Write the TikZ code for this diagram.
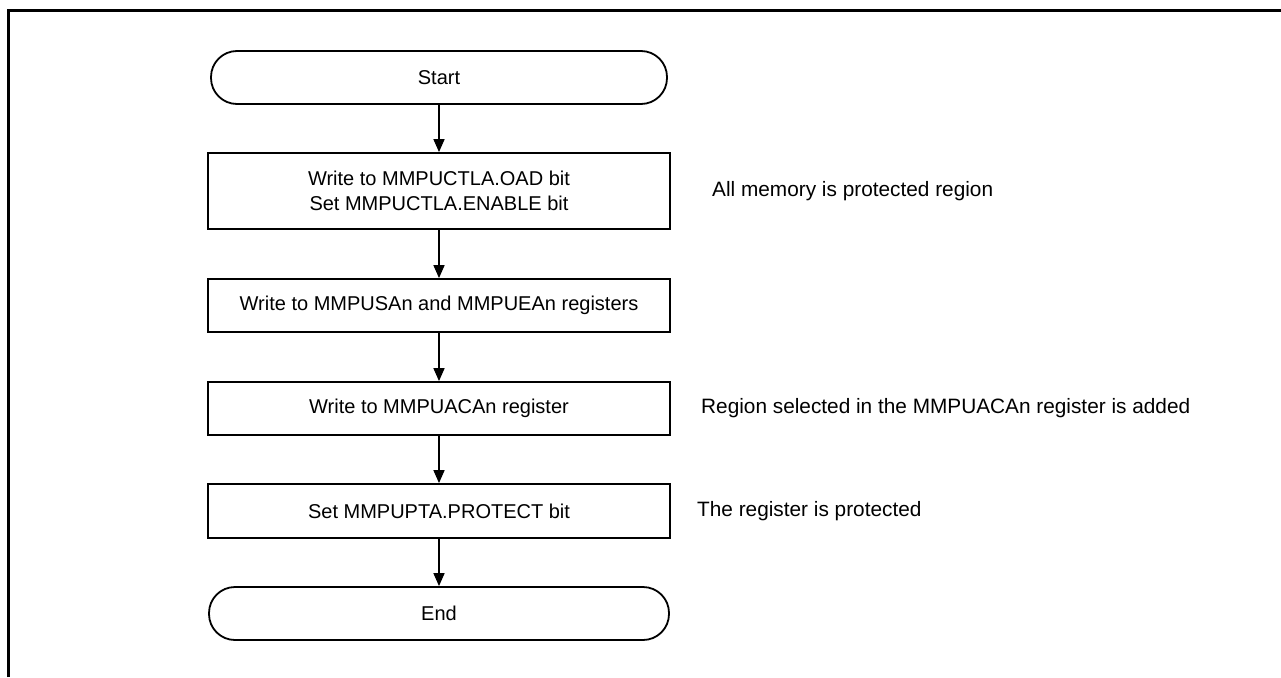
\documentclass[tikz,border=0pt]{standalone}
\usepackage{fontspec}
\setmainfont{Liberation Sans}
\usetikzlibrary{arrows.meta}
\begin{document}
\begin{tikzpicture}[x=1pt,y=-1pt,
  every node/.style={font=\fontsize{20}{25}\selectfont, inner sep=0pt, align=center},
  procbox/.style={draw, line width=1.8pt, minimum width=462pt, minimum height=53pt},
  termbox/.style={draw, line width=1.8pt, rounded corners=26pt, minimum height=53pt},
  note/.style={anchor=west, align=left, font=\fontsize{20.8}{25}\selectfont},
  arr/.style={line width=1.6pt, -{Triangle[length=13pt,width=11pt]}}]
\useasboundingbox (0,0) rectangle (1281,677);
\draw[line width=3pt] (8,677) -- (8,10.5) -- (1281,10.5);
\node[termbox, minimum width=456pt] (start) at (439,77.5) {Start};
\node[procbox, minimum height=76pt] (b1) at (439,191) {Write to MMPUCTLA.OAD bit\\Set MMPUCTLA.ENABLE bit};
\node[procbox] (b2) at (439,305.5) {Write to MMPUSAn and MMPUEAn registers};
\node[procbox] (b3) at (439,408.5) {Write to MMPUACAn register};
\node[procbox, minimum height=54pt] (b4) at (439,511) {Set MMPUPTA.PROTECT bit};
\node[termbox, minimum width=460pt] (end) at (439,613.5) {End};
\node[note] (n1) at (712,191) {All memory is protected region};
\node[note] (n3) at (701,408.5) {Region selected in the MMPUACAn register is added};
\node[note] (n4) at (697,511) {The register is protected};
\draw[arr] (start) -- (b1);
\draw[arr] (b1) -- (b2);
\draw[arr] (b2) -- (b3);
\draw[arr] (b3) -- (b4);
\draw[arr] (b4) -- (end);
\end{tikzpicture}
\end{document}
